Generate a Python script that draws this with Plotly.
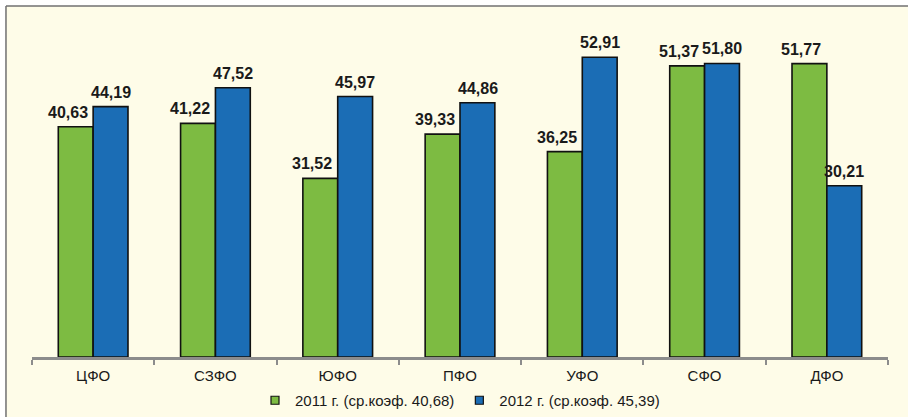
import plotly.graph_objects as go

categories = ["ЦФО", "СЗФО", "ЮФО", "ПФО", "УФО", "СФО", "ДФО"]
values_2011 = [40.63, 41.22, 31.52, 39.33, 36.25, 51.37, 51.77]
values_2012 = [44.19, 47.52, 45.97, 44.86, 52.91, 51.80, 30.21]
name_2011 = "2011 г. (ср.коэф. 40,68)"
name_2012 = "2012 г. (ср.коэф. 45,39)"

GREEN = "#7DBB42"
BLUE = "#1B6DB5"
CREAM = "#FEFCE8"

def fmt(v):
    return f"{v:.2f}".replace(".", ",")

fig = go.Figure()
annotations = []
series = [(values_2011, GREEN, name_2011, -17.5 - 8), (values_2012, BLUE, name_2012, 17.5)]
for vals, col, nm, xs in series:
    fig.add_trace(go.Bar(
        x=categories, y=vals, name=nm, showlegend=False,
        marker=dict(color=col, line=dict(color="#111111", width=1.6)),
        hoverinfo="x+y",
    ))
    fig.add_trace(go.Scatter(
        x=[None], y=[None], mode="markers", name=nm, showlegend=True,
        marker=dict(symbol="square", size=8, color=col, line=dict(color="#111111", width=1.2)),
    ))
    for c, v in zip(categories, vals):
        annotations.append(dict(
            x=c, y=v, xref="x", yref="y", text=fmt(v), showarrow=False,
            xanchor="center", yanchor="bottom", xshift=xs, yshift=4,
            font=dict(family="Liberation Sans", size=16, color="#1a1a1a", weight="bold"),
        ))

fig.update_layout(
    width=908, height=417,
    margin=dict(l=32, r=20, t=17, b=60, autoexpand=False),
    paper_bgcolor=CREAM, plot_bgcolor="rgba(0,0,0,0)",
    barmode="group", bargap=0.43, bargroupgap=0,
    font=dict(family="Liberation Sans", size=15, color="#1a1a1a"),
    showlegend=True,
    legend=dict(orientation="h", x=0.5, xanchor="center", y=-0.128, yanchor="middle",
                font=dict(size=15), bgcolor="rgba(0,0,0,0)", itemwidth=30,
                tracegroupgap=0),
    xaxis=dict(showline=True, linecolor="#8c8c8c", linewidth=2.5,
               ticks="outside", tickson="boundaries", ticklen=5, tickwidth=1.5,
               tickcolor="#8c8c8c", showgrid=False, tickfont=dict(size=15),
               ticklabelstandoff=3, automargin=False),
    yaxis=dict(range=[0, 60], visible=False, showgrid=False, automargin=False),
    annotations=annotations,
    shapes=[
        dict(type="rect", xref="paper", yref="paper", x0=-0.1, x1=-0.0304, y0=-0.3, y1=1.2,
             fillcolor="white", line=dict(width=0), layer="below"),
        dict(type="rect", xref="paper", yref="paper", x0=-0.1, x1=1.1, y0=1.0324, y1=1.2,
             fillcolor="white", line=dict(width=0), layer="below"),
        dict(type="line", xref="paper", yref="paper", x0=-0.0304, x1=1.1, y0=1.0324, y1=1.0324,
             line=dict(color="#707070", width=1.5), layer="above"),
        dict(type="line", xref="paper", yref="paper", x0=-0.0304, x1=-0.0304, y0=-0.3, y1=1.0324,
             line=dict(color="#707070", width=1.5), layer="above"),
    ],
)

fig.write_html("out.html", config={"displayModeBar": False},
               post_script="document.body.style.margin='0';")
